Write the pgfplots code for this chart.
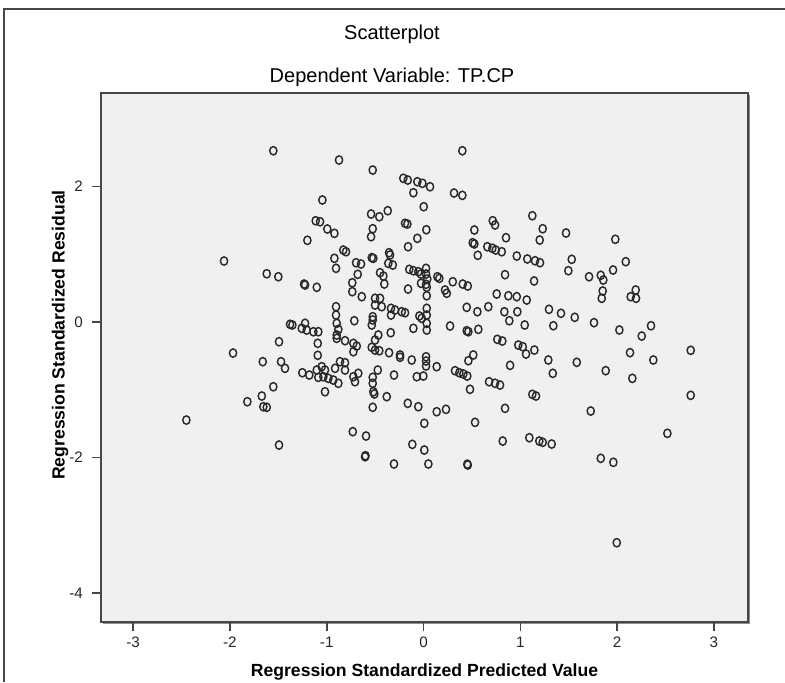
\documentclass[border=0pt]{standalone}
\usepackage{pgfplots}
\pgfplotsset{compat=1.18}
\usepackage{fontspec}
\setmainfont{Liberation Sans}
\definecolor{bgc}{RGB}{240,240,240}
\definecolor{mk}{RGB}{40,40,40}
\definecolor{fr}{RGB}{70,70,70}
\begin{document}
\begin{tikzpicture}
\useasboundingbox (0,0) rectangle (392.5pt,341pt);
% outer frame (top and left)
\draw[fr, line width=0.7pt] (2pt,0) -- (2pt,336.5pt) -- (392.5pt,336.5pt);
% shadow of the plot frame
\draw[black!45, line width=0.6pt] (51.5pt,29.1pt) -- (374.9pt,29.1pt) -- (374.9pt,293.5pt);
\begin{axis}[
  at={(50.5pt,30pt)}, anchor=south west,
  scale only axis, width=323.5pt, height=264.5pt,
  xmin=-3.332, xmax=3.352, ymin=-4.431, ymax=3.383,
  axis background/.style={fill=bgc},
  axis line style={draw=fr, line width=0.9pt},
  xtick={-3,-2,-1,0,1,2,3}, ytick={-4,-2,0,2},
  xtick pos=bottom, ytick pos=left,
  tick align=outside, major tick length=4.5pt,
  tick style={draw=fr, line width=0.8pt},
  /pgf/number format/assume math mode=true,
  ticklabel style={font=\fontsize{7.6}{9}\selectfont, text=black!85},
  xticklabel style={yshift=0.5pt},
  yticklabel style={xshift=-1pt},
  clip=false,
]
\addplot[only marks, mark=o, mark size=1.9pt, mark options={draw=mk, line width=0.72pt, yscale=1.1, xscale=0.95}] table {
x y
-1.552 2.530
-1.045 1.802
-1.114 1.496
-1.069 1.481
-0.994 1.374
-1.200 1.207
-2.061 0.901
-1.620 0.713
-1.500 0.669
-1.234 0.561
-1.224 0.547
-1.103 0.513
-0.873 2.393
-0.525 2.245
0.401 2.530
-0.209 2.123
-0.163 2.097
-0.064 2.072
-0.012 2.049
0.067 1.998
-0.105 1.910
0.315 1.905
0.401 1.871
0.002 1.703
-0.542 1.595
-0.457 1.555
-0.370 1.644
-0.191 1.458
-0.167 1.447
-0.921 1.310
-0.525 1.378
-0.542 1.260
0.029 1.363
-0.064 1.236
-0.160 1.112
0.525 1.359
0.715 1.496
0.739 1.433
0.852 1.245
0.508 1.171
0.525 1.152
0.659 1.112
0.711 1.089
0.746 1.063
0.808 1.038
0.963 0.975
0.560 0.985
-0.829 1.063
-0.801 1.038
-0.921 0.941
-0.904 0.793
-0.535 0.950
-0.519 0.941
-0.356 1.024
-0.346 0.990
-0.364 0.867
-0.318 0.842
-0.697 0.876
-0.646 0.857
-0.680 0.705
-0.449 0.728
-0.415 0.679
-0.405 0.561
-0.736 0.580
-0.736 0.448
-0.147 0.778
-0.105 0.758
-0.054 0.743
0.026 0.793
0.026 0.709
0.039 0.635
-0.026 0.709
0.143 0.669
0.163 0.645
-0.026 0.572
0.026 0.557
0.033 0.513
-0.160 0.487
0.302 0.595
0.405 0.561
0.457 0.532
0.222 0.473
0.240 0.424
0.842 0.699
0.756 0.414
0.876 0.388
0.963 0.374
-0.638 0.374
-0.501 0.350
-0.449 0.350
0.033 0.388
1.124 1.570
1.231 1.378
1.200 1.211
1.472 1.315
1.981 1.222
1.072 0.931
1.152 0.905
1.203 0.876
1.531 0.926
1.496 0.758
1.142 0.606
1.710 0.669
1.831 0.690
1.857 0.620
1.958 0.768
2.089 0.891
1.851 0.458
2.192 0.473
2.140 0.374
2.195 0.350
1.841 0.350
1.066 0.325
-1.379 -0.034
-1.355 -0.044
-1.224 -0.019
-1.258 -0.093
-1.207 -0.118
-1.138 -0.143
-1.087 -0.143
-1.493 -0.291
-1.093 -0.315
-1.968 -0.458
-1.093 -0.492
-1.661 -0.586
-1.472 -0.586
-1.431 -0.684
-1.252 -0.749
-1.180 -0.783
-1.103 -0.709
-1.087 -0.817
-1.552 -0.956
-1.671 -1.093
-1.820 -1.177
-1.655 -1.251
-1.620 -1.260
-2.450 -1.448
-1.493 -1.817
-0.501 0.251
-0.432 0.226
-0.904 0.226
-0.904 0.103
-0.336 0.202
-0.336 0.103
-0.294 0.177
-0.225 0.152
-0.191 0.137
0.033 0.202
0.033 0.103
-0.043 0.089
-0.019 0.055
0.033 -0.019
0.033 -0.118
-0.525 0.078
-0.525 0.030
-0.535 -0.044
-0.715 0.019
-0.897 -0.019
-0.880 -0.108
-0.897 -0.192
-0.897 -0.241
-0.811 -0.276
-0.725 -0.315
-0.690 -0.355
-0.725 -0.439
-0.339 -0.158
-0.105 -0.093
-0.467 -0.192
-0.501 -0.266
-0.535 -0.374
-0.501 -0.414
-0.457 -0.424
-0.356 -0.453
-0.243 -0.487
-0.243 -0.521
-0.122 -0.561
0.026 -0.513
0.026 -0.576
0.026 -0.650
0.136 -0.660
-0.473 -0.709
-0.305 -0.783
-0.070 -0.808
-0.002 -0.798
-0.525 -0.817
-0.525 -0.905
-0.519 -1.030
-0.508 -1.063
-0.380 -1.103
-0.525 -1.260
-1.052 -0.660
-1.018 -0.709
-1.035 -0.808
-0.983 -0.832
-0.932 -0.857
-0.880 -0.905
-0.914 -0.684
-0.863 -0.586
-0.811 -0.601
-0.811 -0.709
-0.725 -0.808
-0.708 -0.882
-0.674 -0.758
-1.018 -1.030
-0.163 -1.201
-0.054 -1.251
0.136 -1.325
0.232 -1.290
0.008 -1.496
-0.731 -1.620
-0.594 -1.684
-0.116 -1.807
0.008 -1.891
0.446 0.217
0.556 0.152
0.669 0.226
0.835 0.152
0.969 0.152
0.886 0.019
0.274 -0.059
0.446 -0.129
0.463 -0.143
0.566 -0.108
0.762 -0.256
0.814 -0.281
0.979 -0.340
0.514 -0.487
0.463 -0.572
0.325 -0.719
0.370 -0.749
0.411 -0.768
0.452 -0.798
0.894 -0.640
0.677 -0.882
0.739 -0.905
0.790 -0.931
0.480 -0.994
0.842 -1.275
0.532 -1.482
0.818 -1.758
1.296 0.188
1.420 0.129
1.562 0.069
1.045 -0.044
1.341 -0.055
1.761 -0.010
2.023 -0.118
2.254 -0.207
2.350 -0.055
1.025 -0.365
1.059 -0.473
1.145 -0.414
1.289 -0.561
1.335 -0.758
1.583 -0.595
1.882 -0.719
2.133 -0.453
2.374 -0.561
2.157 -0.832
2.760 -0.418
1.124 -1.068
1.162 -1.093
1.727 -1.315
2.760 -1.083
2.519 -1.644
1.093 -1.709
1.196 -1.758
1.231 -1.777
1.324 -1.802
0.050 -2.097
-0.604 -1.990
-0.600 -1.975
-0.305 -2.097
0.457 -2.112
0.452 -2.100
1.831 -2.013
1.961 -2.072
1.996 -3.260
};
\end{axis}
% titles
\node[anchor=base, font=\fontsize{10}{12}\selectfont] at (196pt,321.5pt) {Scatterplot};
\node[anchor=base, font=\fontsize{10}{12}\selectfont] at (196pt,300pt) {Dependent Variable: TP.CP};
\node[anchor=base, font=\bfseries\fontsize{8.8}{10}\selectfont] at (212.25pt,3pt) {Regression Standardized Predicted Value};
\node[rotate=90, anchor=center, font=\bfseries\fontsize{8.8}{10}\selectfont] at (30pt,173.5pt) {Regression Standardized Residual};
\end{tikzpicture}
\end{document}
